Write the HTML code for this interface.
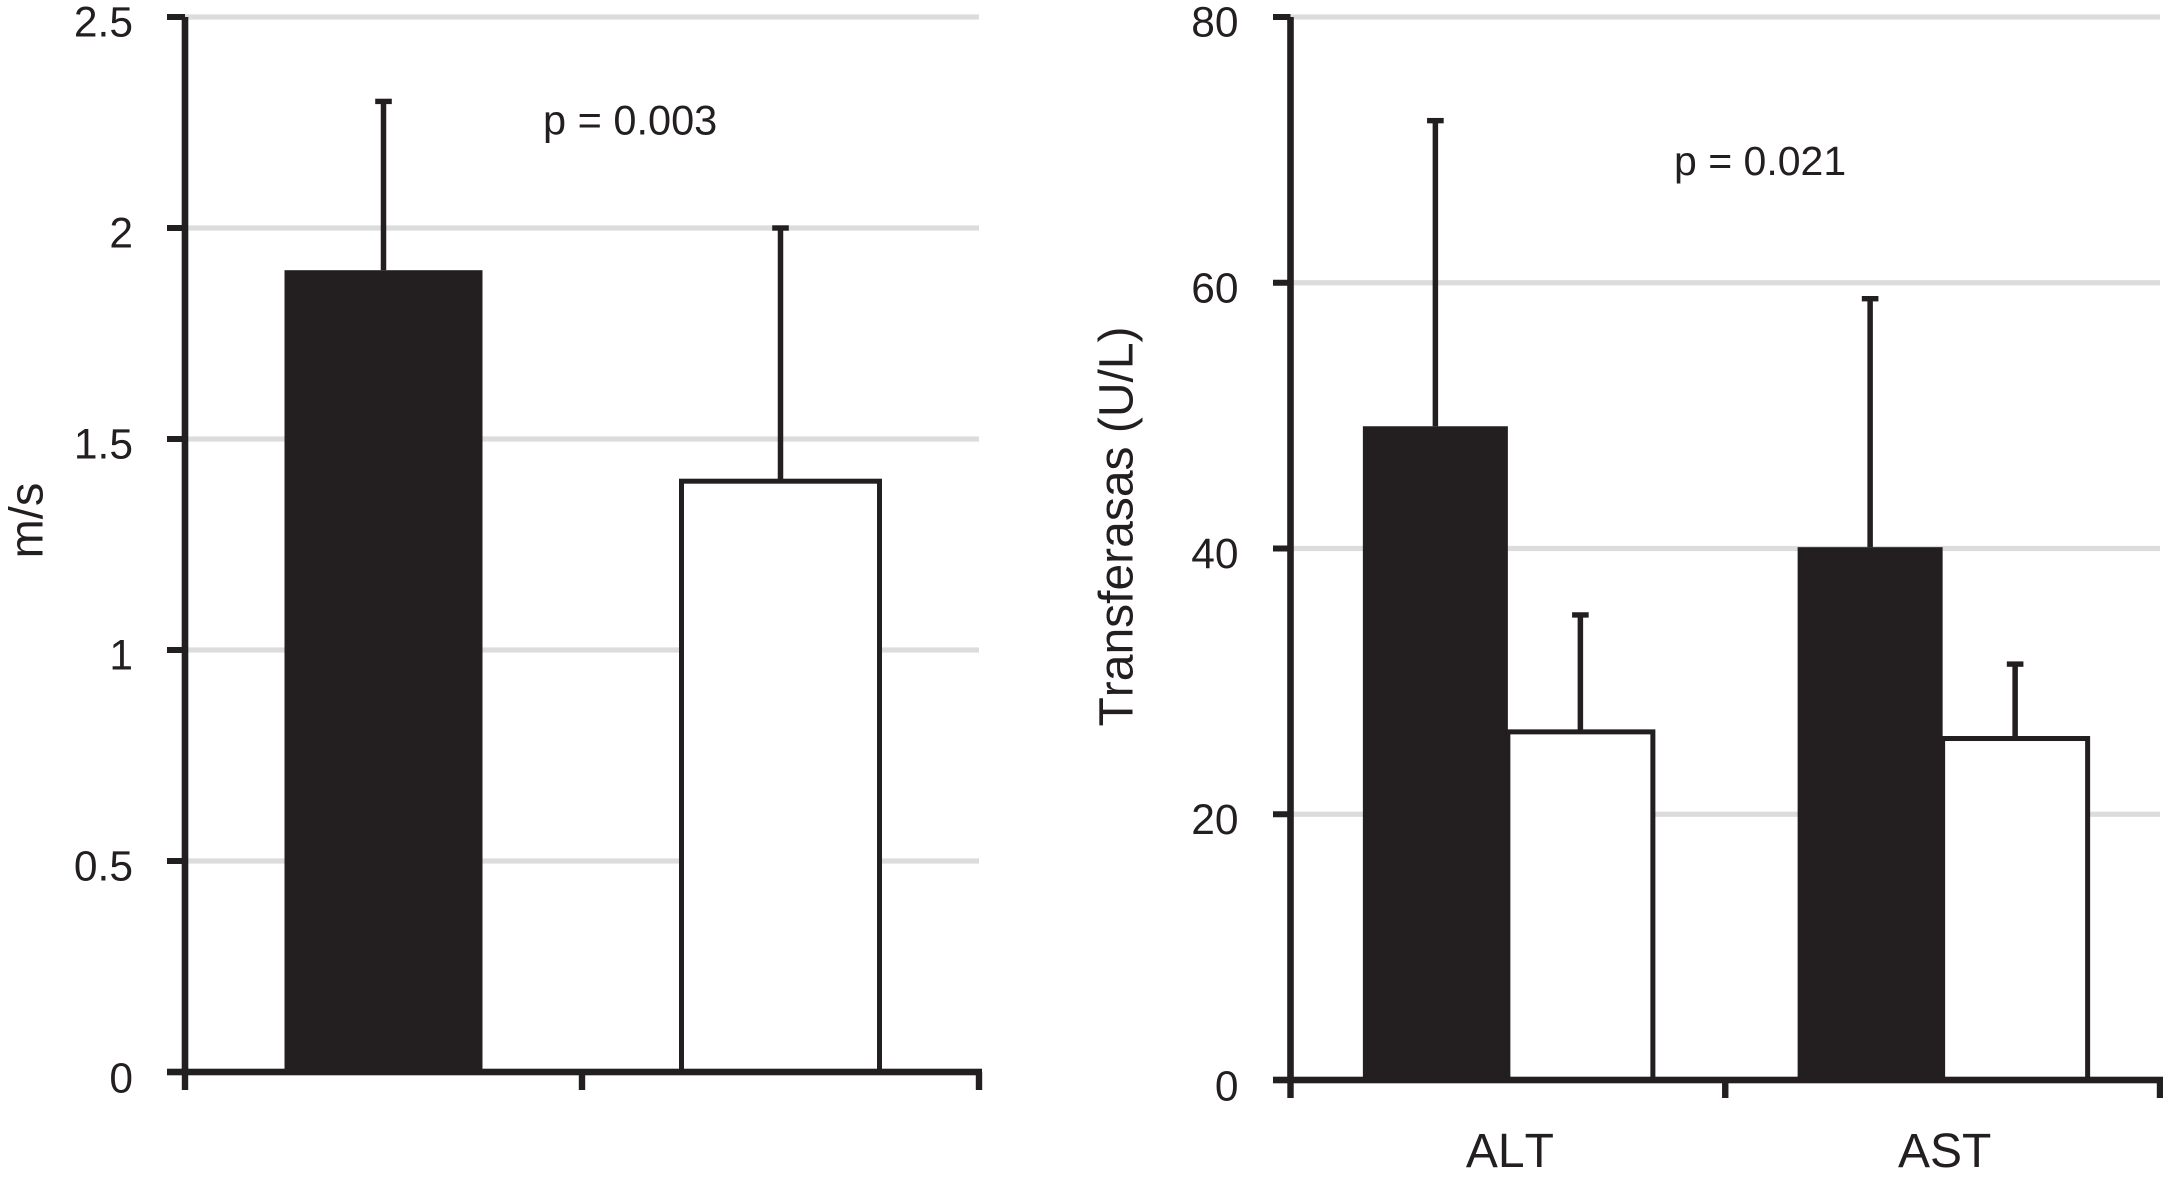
<!DOCTYPE html>
<html lang="es">
<head>
<meta charset="utf-8">
<title>Velocidad y transferasas</title>
<style>
html,body{margin:0;padding:0;background:#fff;width:2163px;height:1179px;overflow:hidden}
svg{display:block}
text{font-family:"Liberation Sans",Arial,sans-serif;fill:#231f20;font-kerning:none}
</style>
</head>
<body>
<svg id="figure" xmlns="http://www.w3.org/2000/svg" width="2163" height="1179" viewBox="0 0 2163 1179">
<rect x="0" y="0" width="2163" height="1179" fill="#ffffff"/>
</svg>
<script>
// Left chart data
const leftTickValues = [0, 0.5, 1, 1.5, 2, 2.5];
const leftTickLabels = ['0', '0.5', '1', '1.5', '2', '2.5'];
const leftCategories = ['', ''];
const leftFilledValues = [1.9];
const leftFilledErrors = [2.3];
const leftOpenValues = [1.4];
const leftOpenErrors = [2.0];

// Right chart data
const rightTickValues = [0, 20, 40, 60, 80];
const rightTickLabels = ['0', '20', '40', '60', '80'];
const rightCategories = ['ALT', 'AST'];
const rightFilledValues = [49.2, 40.1];
const rightFilledErrors = [72.2, 58.8];
const rightOpenValues = [26.2, 25.7];
const rightOpenErrors = [35.0, 31.3];

const INK = '#231f20';
const GRID = '#dcdcdc';
const svg = document.getElementById('figure');

function shape(tag, props) {
  const el = document.createElementNS('http://www.w3.org/2000/svg', tag);
  for (const k in props) el.setAttribute(k, props[k]);
  svg.appendChild(el);
  return el;
}
function hLine(name, x1, x2, y, w, color) {
  const el = shape('rect', { x: x1, y: y - w / 2, width: x2 - x1, height: w, fill: color });
  
  
  return el;
}
function vLine(name, x, y1, y2, w, color) {
  const el = shape('rect', { x: x - w / 2, y: y1, width: w, height: y2 - y1, fill: color });
  
  
  return el;
}
function label(name, str, x, y, size, anchor, rotate) {
  const props = { x: x, y: y, 'font-size': size, 'text-anchor': anchor };
  if (rotate) props.transform = 'rotate(-90 ' + x + ' ' + y + ')';
  const el = shape('text', props);
  el.textContent = str;
  
  
  return el;
}
function errorBar(name, x, yTop, yBase) {
  vLine(name + '-stem', x, yTop, yBase, 5.5, INK);
  hLine(name + '-cap', x - 8.3, x + 8.3, yTop, 5.4, INK);
}

function drawChart(cfg) {
  const yMax = cfg.ticks[cfg.ticks.length - 1];
  const yScale = function (v) { return cfg.yZero - (v / yMax) * (cfg.yZero - cfg.yTop); };
  const band = (cfg.xRight - cfg.xAxis) / cfg.categories.length;
  const xCenter = function (i) { return cfg.xAxis + band * (i + 0.5); };

  // gridlines
  cfg.ticks.forEach(function (t) {
    if (t !== 0) hLine(cfg.id + '-gridline-' + t, cfg.xAxis, cfg.xRight, yScale(t), 5.2, GRID);
  });

  // bars and error bars
  cfg.filled.forEach(function (v, i) {
    const cx = cfg.paired ? xCenter(i) - cfg.barW / 2 : xCenter(i * 0);
    const el = shape('rect', { x: cx - cfg.barW / 2, y: yScale(v), width: cfg.barW, height: cfg.yZero - yScale(v), fill: INK });
    
    
    errorBar(cfg.id + '-filled-error-' + (i + 1), cx, yScale(cfg.filledErr[i]), yScale(v));
  });
  cfg.open.forEach(function (v, i) {
    const cx = cfg.paired ? xCenter(i) + cfg.barW / 2 : xCenter(i + 1);
    errorBar(cfg.id + '-open-error-' + (i + 1), cx, yScale(cfg.openErr[i]), yScale(v));
    const el = shape('rect', { x: cx - cfg.barW / 2, y: yScale(v), width: cfg.barW, height: cfg.yZero - yScale(v), fill: '#ffffff', stroke: INK, 'stroke-width': 5 });
    
    
  });

  // axes
  vLine(cfg.id + '-y-axis', cfg.xAxis, yScale(yMax), cfg.yZero + 3, 6.6, INK);
  hLine(cfg.id + '-x-axis', cfg.tickLeft, cfg.xEnd, cfg.yZero, 6.6, INK);

  // y ticks and labels
  cfg.ticks.forEach(function (t, i) {
    hLine(cfg.id + '-y-tick-' + t, cfg.tickLeft, cfg.xAxis, yScale(t), 6, INK);
    label(cfg.id + '-y-tick-label-' + t, cfg.tickLabels[i], cfg.labelRight, yScale(t) + (t === 0 ? 20.5 : 19.5), 42.5, 'end', false);
  });

  // x ticks
  for (let i = 0; i <= cfg.categories.length; i++) {
    vLine(cfg.id + '-x-tick-' + i, cfg.xAxis + band * i, cfg.yZero, cfg.yZero + 18, 6.4, INK);
  }

  // category labels
  cfg.categories.forEach(function (c, i) {
    if (c) label(cfg.id + '-category-label-' + c.toLowerCase(), c, xCenter(i) + 2, 1167, 48, 'middle', false);
  });
}

drawChart({
  id: 'velocity-chart',
  ticks: leftTickValues, tickLabels: leftTickLabels, categories: leftCategories,
  filled: leftFilledValues, filledErr: leftFilledErrors,
  open: leftOpenValues, openErr: leftOpenErrors,
  paired: false, barW: 198,
  xAxis: 185, xRight: 979, xEnd: 982, tickLeft: 167, yTop: 17, yZero: 1072, labelRight: 133
});
drawChart({
  id: 'transferases-chart',
  ticks: rightTickValues, tickLabels: rightTickLabels, categories: rightCategories,
  filled: rightFilledValues, filledErr: rightFilledErrors,
  open: rightOpenValues, openErr: rightOpenErrors,
  paired: true, barW: 145,
  xAxis: 1290.5, xRight: 2160, xEnd: 2163, tickLeft: 1273, yTop: 17, yZero: 1080, labelRight: 1238.5
});

label('velocity-y-axis-title', 'm/s', 42.7, 520.5, 47, 'middle', true);
label('transferases-y-axis-title', 'Transferasas (U/L)', 1132.7, 526.5, 48, 'middle', true);
label('velocity-p-value', 'p = 0.003', 543, 134.5, 41.5, 'start', false);
label('transferases-p-value', 'p = 0.021', 1674, 175, 41, 'start', false);
</script>
</body>
</html>
